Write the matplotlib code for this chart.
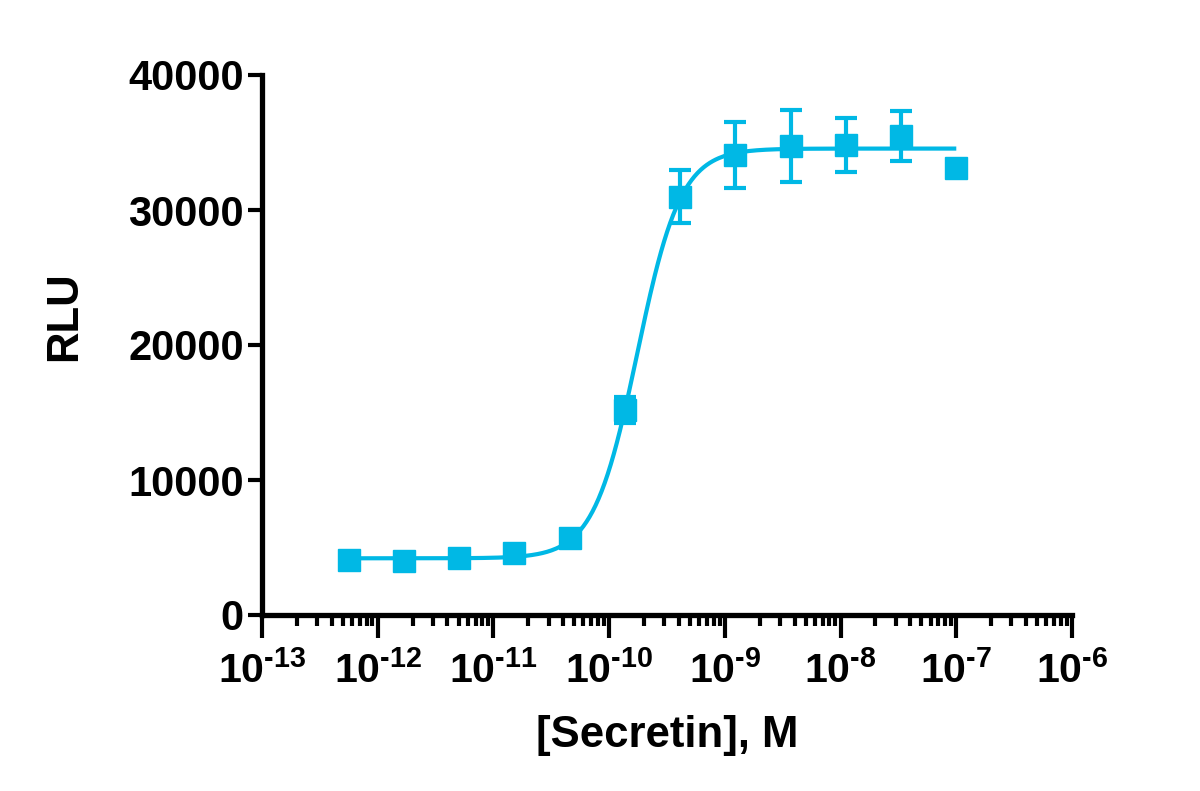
import numpy as np
import matplotlib
matplotlib.use('Agg')
import matplotlib.pyplot as plt
from matplotlib.ticker import LogLocator, FixedLocator, NullFormatter

plt.rcParams['font.family'] = ['Liberation Sans', 'DejaVu Sans']
plt.rcParams['font.weight'] = 'bold'
plt.rcParams['mathtext.fontset'] = 'custom'
plt.rcParams['mathtext.rm'] = 'Liberation Sans:bold'
plt.rcParams['mathtext.bf'] = 'Liberation Sans:bold'
plt.rcParams['mathtext.default'] = 'rm'

# data (3-fold dilution series)
conc = [5.65e-13, 1.69e-12, 5.08e-12, 1.52e-11, 4.57e-11, 1.37e-10,
        4.12e-10, 1.23e-9, 3.70e-9, 1.11e-8, 3.33e-8, 1.0e-7]
rlu = [4070, 4000, 4220, 4600, 5700, 15200, 31000, 34070, 34740, 34800, 35480, 33100]
rlu_err = [150, 150, 150, 150, 200, 950, 1950, 2450, 2700, 2000, 1850, 0]

# 4PL fit parameters (estimated)
bottom = 4200
top = 34550
ec50 = 1.75e-10
hill = 2.3

x_ticks = [1e-13, 1e-12, 1e-11, 1e-10, 1e-9, 1e-8, 1e-7, 1e-6]
x_tick_labels = [r'$10^{\text{-%d}}$' % k for k in range(13, 5, -1)]
y_ticks = [0, 10000, 20000, 30000, 40000]

color = '#00B8E5'

fig = plt.figure(figsize=(12, 7.91), dpi=100)
ax = fig.add_axes([262 / 1200, 1 - 615 / 791, 810 / 1200, 540 / 791])

xs = np.logspace(np.log10(conc[0]), np.log10(conc[-1]), 400)
fit = bottom + (top - bottom) / (1 + (ec50 / xs) ** hill)
ax.plot(xs, fit, color=color, lw=3, solid_capstyle='butt', zorder=2)

ax.errorbar(conc, rlu, yerr=rlu_err, fmt='s', color=color, ms=16,
            elinewidth=3, capsize=8, capthick=3, zorder=3)

ax.set_xscale('log')
ax.set_xlim(1e-13, 1e-6)
ax.set_ylim(0, 40000)

ax.xaxis.set_major_locator(FixedLocator(x_ticks))
ax.set_xticklabels(x_tick_labels)
ax.xaxis.set_minor_locator(LogLocator(base=10, subs=np.arange(2, 10), numticks=20))
ax.xaxis.set_minor_formatter(NullFormatter())
ax.set_yticks(y_ticks)
ax.set_yticklabels([str(v) for v in y_ticks])

for side in ['top', 'right']:
    ax.spines[side].set_visible(False)
for side in ['left', 'bottom']:
    ax.spines[side].set_linewidth(3.8)

ax.tick_params(axis='x', which='major', length=16.5, width=3, pad=9,
               labelsize=29.5, direction='out')
ax.tick_params(axis='x', which='minor', length=8, width=3, direction='out')
ax.tick_params(axis='y', which='major', length=10, width=3, pad=3,
               labelsize=30, direction='out')

ax.set_xlabel('[Secretin], M', fontsize=31.5, fontweight='bold')
ax.set_ylabel('RLU', fontsize=31.5, fontweight='bold')
ax.xaxis.set_label_coords(0.5, -0.185)
ax.yaxis.set_label_coords(-0.218, 0.554)

fig.savefig('out.png', dpi=100)
